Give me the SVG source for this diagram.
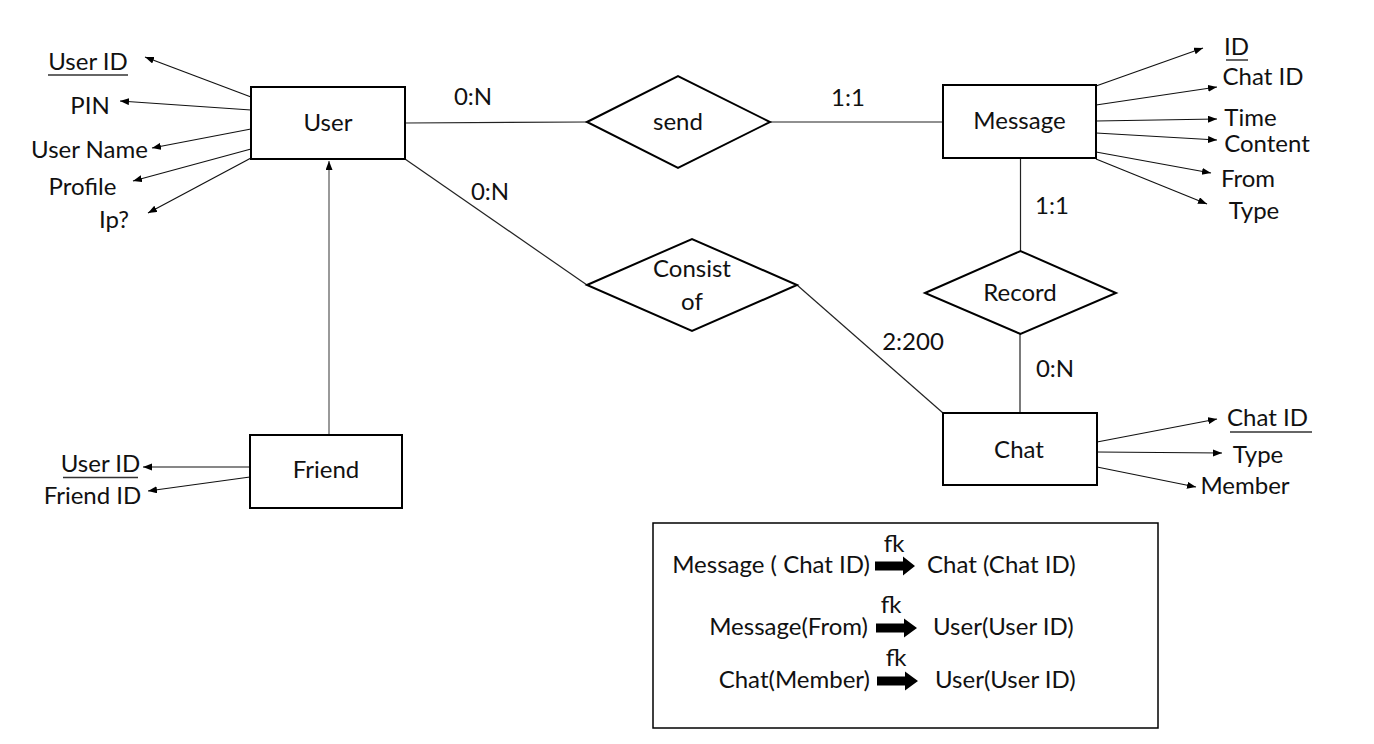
<svg xmlns="http://www.w3.org/2000/svg" width="1374" height="744" viewBox="0 0 1374 744">
<style>
text{font-family:Lato,"Open Sans","Liberation Sans",sans-serif;font-size:24px;fill:#111}
.m{text-anchor:middle}
.e{text-anchor:end}
.box{fill:#fff;stroke:#000;stroke-width:2}
.dia{fill:#fff;stroke:#000;stroke-width:2}
.ln{stroke:#222;stroke-width:1.2;fill:none}
.ar{stroke:#111;stroke-width:1.2;fill:none;marker-end:url(#ah)}
.ul{stroke:#333;stroke-width:1.5}
.blk{fill:#000}
</style>
<defs>
<marker id="ah" markerUnits="userSpaceOnUse" markerWidth="10" markerHeight="8" refX="9" refY="3.5" orient="auto">
<path d="M0,0 L9,3.5 L0,7 z" fill="#000"/>
</marker>
</defs>
<rect width="1374" height="744" fill="#fff"/>

<g id="connectors">
<line class="ln" x1="405" y1="123" x2="587" y2="122"/>
<line class="ln" x1="770" y1="122" x2="943" y2="122"/>
<line class="ln" x1="405" y1="159" x2="587" y2="285"/>
<line class="ln" x1="797" y1="285" x2="943" y2="413"/>
<line class="ln" x1="1020.5" y1="158" x2="1020.5" y2="251"/>
<line class="ln" x1="1020" y1="334" x2="1020" y2="413"/>
<line class="ar" x1="329" y1="435" x2="329" y2="161" style="stroke:#555"/>
<!-- User attributes -->
<line class="ar" x1="251" y1="97" x2="145" y2="57"/>
<line class="ar" x1="251" y1="110" x2="120" y2="101"/>
<line class="ar" x1="251" y1="129" x2="152" y2="148"/>
<line class="ar" x1="251" y1="149" x2="133" y2="181"/>
<line class="ar" x1="251" y1="158" x2="148" y2="213"/>
<!-- Message attributes -->
<line class="ar" x1="1096" y1="86" x2="1203" y2="48"/>
<line class="ar" x1="1096" y1="105" x2="1217" y2="87"/>
<line class="ar" x1="1096" y1="121" x2="1217" y2="119"/>
<line class="ar" x1="1096" y1="133" x2="1217" y2="140"/>
<line class="ar" x1="1096" y1="152" x2="1211" y2="173"/>
<line class="ar" x1="1096" y1="159" x2="1207" y2="204"/>
<!-- Chat attributes -->
<line class="ar" x1="1097" y1="442" x2="1217" y2="419"/>
<line class="ar" x1="1097" y1="452" x2="1222" y2="453"/>
<line class="ar" x1="1097" y1="467" x2="1196" y2="487"/>
<!-- Friend attributes -->
<line class="ar" x1="250" y1="467" x2="143" y2="467"/>
<line class="ar" x1="250" y1="477" x2="148" y2="491"/>
<!-- cardinalities -->
<text class="m" x="473" y="105">0:N</text>
<text class="m" x="848" y="106">1:1</text>
<text class="m" x="490" y="200">0:N</text>
<text class="m" x="913" y="350">2:200</text>
<text class="m" x="1052" y="214">1:1</text>
<text class="m" x="1055" y="377">0:N</text>
</g>

<g id="user">
<rect class="box" x="251" y="87" width="154" height="72"/>
<text class="m" x="328" y="131">User</text>
</g>
<g id="user-attrs">
<text class="m" x="88" y="70">User ID</text>
<line class="ul" x1="48" y1="75" x2="128" y2="75"/>
<text class="m" x="90" y="114">PIN</text>
<text class="m" x="89.5" y="158">User Name</text>
<text class="m" x="82.5" y="195">Profile</text>
<text class="m" x="114" y="228">Ip?</text>
</g>

<g id="send">
<polygon class="dia" points="587,122 678,76 770,122 678,168"/>
<text class="m" x="678" y="130">send</text>
</g>

<g id="message">
<rect class="box" x="943" y="85" width="153" height="73"/>
<text class="m" x="1019.5" y="129">Message</text>
</g>
<g id="message-attrs">
<text class="m" x="1236.5" y="55">ID</text>
<line class="ul" x1="1226" y1="60" x2="1248" y2="60"/>
<text class="m" x="1263" y="85">Chat ID</text>
<text class="m" x="1250.5" y="126">Time</text>
<text class="m" x="1267" y="152">Content</text>
<text class="m" x="1248" y="187">From</text>
<text class="m" x="1254" y="219">Type</text>
</g>

<g id="consist">
<polygon class="dia" points="587,285 692,239 797,285 692,331"/>
<text class="m" x="692" y="277">Consist</text>
<text class="m" x="692" y="310">of</text>
</g>

<g id="record">
<polygon class="dia" points="925,293 1020.5,251 1116,293 1020.5,334"/>
<text class="m" x="1020" y="301">Record</text>
</g>

<g id="chat">
<rect class="box" x="943" y="413" width="154" height="72"/>
<text class="m" x="1019" y="458">Chat</text>
</g>
<g id="chat-attrs">
<text class="m" x="1267.5" y="426">Chat ID</text>
<line class="ul" x1="1230" y1="432" x2="1312" y2="432"/>
<text class="m" x="1258" y="463">Type</text>
<text class="m" x="1245" y="494">Member</text>
</g>

<g id="friend">
<rect class="box" x="250" y="435" width="152" height="73"/>
<text class="m" x="326" y="478">Friend</text>
</g>
<g id="friend-attrs">
<text class="m" x="100.5" y="472">User ID</text>
<line class="ul" x1="63" y1="477.5" x2="138" y2="477.5"/>
<text class="m" x="92.5" y="504">Friend ID</text>
</g>

<g id="legend">
<rect x="653" y="523" width="505" height="205" fill="#fff" stroke="#000" stroke-width="1.5"/>
<text class="e" x="870" y="573">Message ( Chat ID)</text>
<text class="m" x="894" y="552">fk</text>
<polygon class="blk" points="875,561.5 903,561.5 903,556.5 915,566 903,575.5 903,570.5 875,570.5"/>
<text x="927" y="573">Chat (Chat ID)</text>

<text class="e" x="868" y="635">Message(From)</text>
<text class="m" x="891" y="613">fk</text>
<polygon class="blk" points="876,623.5 904,623.5 904,618.5 917,628 904,637.5 904,632.5 876,632.5"/>
<text x="933" y="635">User(User ID)</text>

<text class="e" x="870" y="688">Chat(Member)</text>
<text class="m" x="896" y="666">fk</text>
<polygon class="blk" points="877,676.5 905,676.5 905,671.5 918,681 905,690.5 905,685.5 877,685.5"/>
<text x="935" y="688">User(User ID)</text>
</g>
</svg>
